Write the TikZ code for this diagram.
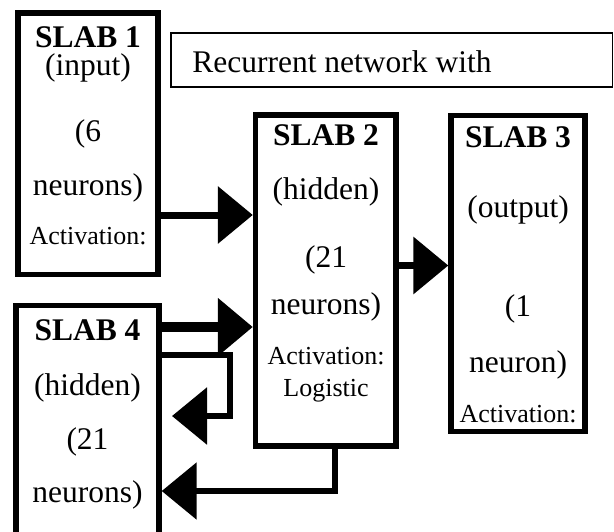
\documentclass[tikz,border=0pt]{standalone}
\usepackage{fontspec}
\setmainfont{Liberation Serif}
\usetikzlibrary{arrows.meta,positioning}
\newcommand\bigtxt{\fontsize{15.75pt}{18pt}\selectfont}
\newcommand\acttxt{\fontsize{13pt}{15pt}\selectfont}
\tikzstyle{slab}=[draw, line width=2.7pt, inner sep=0pt]
\tikzstyle{note}=[draw, line width=0.85pt, inner sep=0pt]
\tikzstyle{lbl}=[anchor=base, inner sep=0pt]
\tikzstyle{arr}=[-{Triangle[length=17.5pt,width=28pt]}, line width=3.5pt]
\tikzstyle{arrthin}=[-{Triangle[length=17.5pt,width=28pt]}, line width=3pt]
\begin{document}
\begin{tikzpicture}[x=0.5pt,y=-0.5pt,font=\bigtxt]
    \clip (0,0) rectangle (614,531);

    % slabs
    \node[slab,minimum width=70pt,minimum height=130.75pt] (slab1) at (88,143.75) {};
    \node[slab,minimum width=70.25pt,minimum height=165.5pt] (slab2) at (325.75,280.5) {};
    \node[slab,minimum width=67pt,minimum height=158pt] (slab3) at (518,273.5) {};
    \node[slab,minimum width=71.5pt,minimum height=147.25pt] (slab4) at (87.5,452.75) {};
    \node[note,minimum width=220.75pt,minimum height=27.15pt] (note) at (391.75,59.85) {};
    \node[lbl,anchor=base west] (title) at (192,72.5) {Recurrent network with};

    % texts
    \foreach \y/\t [count=\k] in {47/\textbf{SLAB 1},75.5/(input),141/(6,195/neurons),244/{\acttxt Activation:}}
        \node[lbl] (a\k) at (88,\y) {\t};
    \foreach \y/\t [count=\k] in {145/\textbf{SLAB 2},199/(hidden),267.5/(21,314/neurons),364/{\acttxt Activation:},396/{\acttxt Logistic}}
        \node[lbl] (b\k) at (326,\y) {\t};
    \foreach \y/\t [count=\k] in {147/\textbf{SLAB 3},217/(output),316/(1,372/neuron),422/{\acttxt Activation:}}
        \node[lbl] (c\k) at (518,\y) {\t};
    \foreach \y/\t [count=\k] in {340/\textbf{SLAB 4},395/(hidden),449/(21,502/neurons)}
        \node[lbl] (d\k) at (87.5,\y) {\t};

    % connectors
    \coordinate (h1) at (200,215);
    \coordinate (h2) at (420,265.5);
    \coordinate (h3) at (200,327);
    \coordinate (h4) at (230,355);
    \coordinate (bend) at (230,416);
    \coordinate (loopend) at (172,416);
    \coordinate (h5) at (335,491);
    \draw[arr] (slab1.east |- h1) -- (slab2.west |- h1);
    \draw[arr] (slab2.east |- h2) -- (slab3.west |- h2);
    \draw[arr,line width=5pt] (slab4.east |- h3) -- (slab2.west |- h3);
    \draw[arrthin] (slab4.east |- h4) -| (bend) -- (loopend);
    \draw[arrthin] (slab2.south -| h5) |- (slab4.east |- h5);
\end{tikzpicture}
\end{document}
